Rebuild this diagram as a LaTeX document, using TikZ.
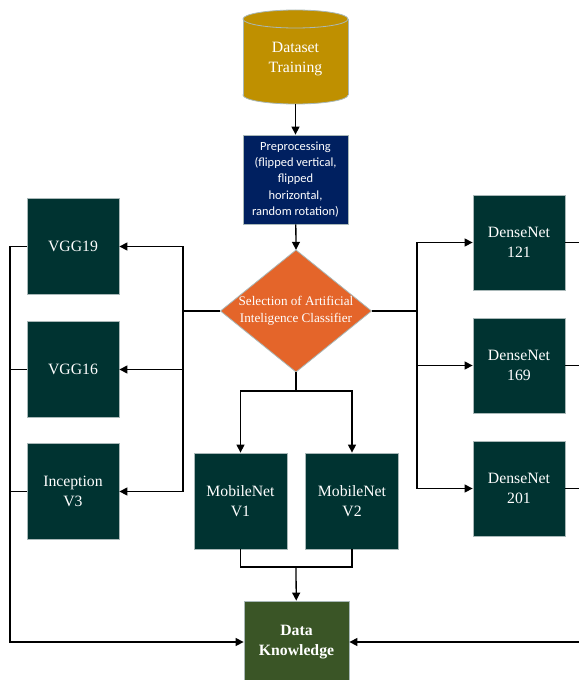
\documentclass[tikz,border=0pt]{standalone}
\usepackage{fontspec}
\setmainfont{Liberation Serif}
\newfontfamily\calibrifont{Carlito}
\usetikzlibrary{arrows.meta}
\definecolor{boxteal}{HTML}{003331}
\definecolor{prenavy}{HTML}{002060}
\definecolor{selorange}{HTML}{E4652A}
\definecolor{dsgold}{HTML}{BF9000}
\definecolor{dkgreen}{HTML}{3A5526}
\definecolor{edgegray}{HTML}{A9B8B8}
\begin{document}
\begin{tikzpicture}[x=1bp,y=-1bp,
  box/.style={rectangle, fill=boxteal, draw=edgegray, line width=0.8bp, text=white,
    align=center, inner sep=0pt, minimum width=92bp, minimum height=96bp,
    font=\fontsize{15.8}{20}\selectfont},
  conn/.style={line width=1.3bp, black},
  arr/.style={conn, -{Triangle[length=8bp,width=8bp]}}]
\useasboundingbox (0,0) rectangle (579,680);
\clip (0,0) rectangle (579,680);

% cylinder
\filldraw[fill=dsgold, draw=edgegray, line width=0.8bp] (295.5,95) ellipse [x radius=52.5bp, y radius=9bp];
\fill[dsgold] (243,19) rectangle (348,95);
\draw[edgegray, line width=0.8bp] (243,19) -- (243,95) (348,19) -- (348,95);
\filldraw[fill=dsgold, draw=edgegray, line width=0.8bp] (295.5,19) ellipse [x radius=52.5bp, y radius=9bp];
\node[minimum width=105bp, minimum height=90bp, inner sep=0pt, text=white, align=center,
  font=\fontsize{15.8}{20.5}\selectfont] (ds) at (295.5,59) {Dataset\\Training};

% preprocessing
\node[rectangle, fill=prenavy, draw=edgegray, line width=0.8bp, text=white, align=center,
  inner sep=0pt, minimum width=105bp, minimum height=89bp,
  font=\calibrifont\fontsize{12.5}{16.4}\selectfont] (pre) at (295.5,179.5)
  {Preprocessing\\(flipped vertical,\\flipped\\horizontal,\\random rotation)};

% diamond
\fill[selorange, draw=edgegray, line width=0.8bp] (296,250) -- (371.5,311) -- (296,372) -- (220.5,311) -- cycle;
\node[minimum width=151bp, minimum height=122bp, inner sep=0pt, text=white, align=center,
  font=\fontsize{13.2}{16.7}\selectfont] (sel) at (296,311)
  {Selection of Artificial\\Inteligence Classifier};

% left models
\node[box] (v19) at (73,246.5) {VGG19};
\node[box] (v16) at (73,369.5) {VGG16};
\node[box] (inc) at (73,491.5) {Inception\\V3};
% right models
\node[box, minimum height=95bp] (d121) at (519,242.5) {DenseNet\\121};
\node[box, minimum height=95bp] (d169) at (519,365.5) {DenseNet\\169};
\node[box, minimum height=95bp] (d201) at (519,488.5) {DenseNet\\201};
% mobile
\node[box, minimum width=93bp] (m1) at (240.5,501) {MobileNet\\V1};
\node[box, minimum width=93bp] (m2) at (352,501) {MobileNet\\V2};
% data knowledge
\node[box, fill=dkgreen, minimum width=105bp, minimum height=82bp,
  font=\bfseries\fontsize{15.8}{20}\selectfont] (dk) at (296.5,642) {Data\\Knowledge};

% coordinates
\coordinate (lb) at (183,311);
\coordinate (rb) at (417,311);
\coordinate (mb) at (296,391);
\coordinate (mj) at (296,567);
\coordinate (lr) at (10,642);
\coordinate (rr) at (595,642);

% connectors
\draw[arr] (ds) -- (pre);
\draw[arr] (pre) -- (sel.north);
\draw[conn] (sel.west) -- (lb);
\draw[arr] (lb) |- (v19);
\draw[arr] (lb) |- (v16);
\draw[arr] (lb) |- (inc);
\draw[conn] (sel.east) -- (rb);
\draw[arr] (rb) |- (d121);
\draw[arr] (rb) |- (d169);
\draw[arr] (rb) |- (d201);
\draw[conn] (sel.south) -- (mb);
\draw[arr] (mb) -| (m1);
\draw[arr] (mb) -| (m2);
\draw[conn] (m1.south) |- (mj) -| (m2.south);
\draw[arr] (mj) -- (dk);
\draw[conn] (v19.west) -| (lr);
\draw[conn] (v16.west) -| (lr);
\draw[arr] (inc.west) -| (lr) -- (dk.west);
\draw[conn] (d121.east) -| (rr);
\draw[conn] (d169.east) -| (rr);
\draw[arr] (d201.east) -| (rr) -- (dk.east);
\end{tikzpicture}
\end{document}
